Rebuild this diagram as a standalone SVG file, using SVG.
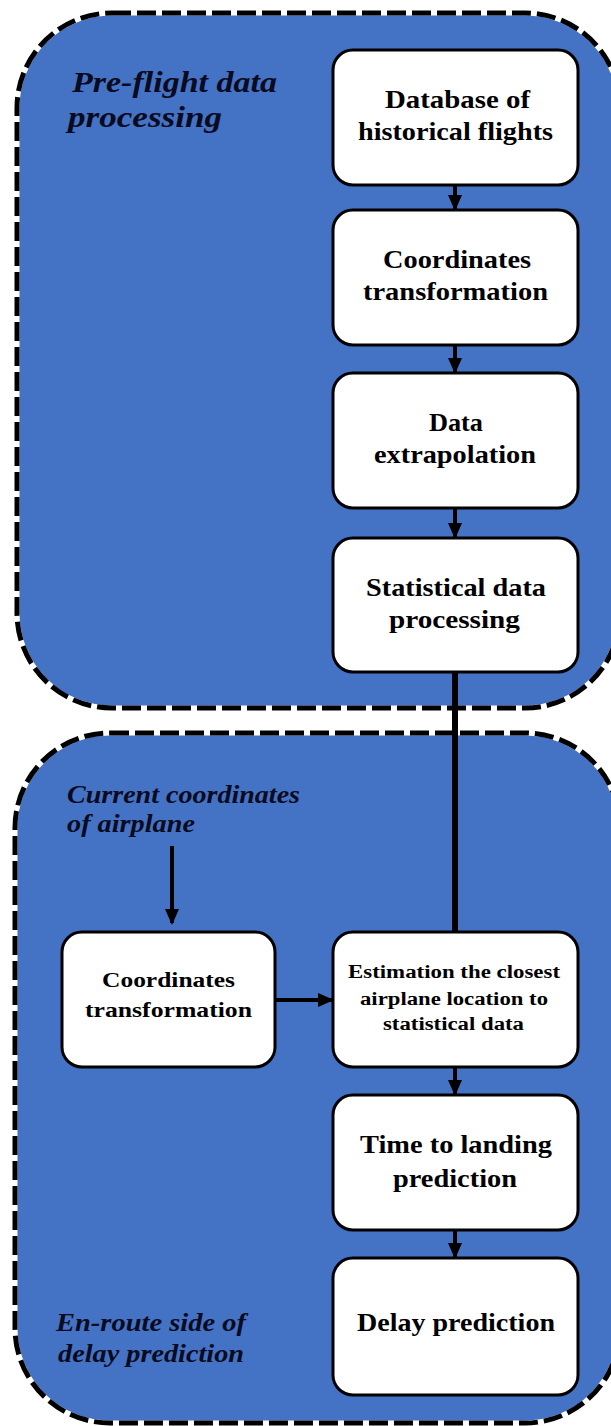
<svg xmlns="http://www.w3.org/2000/svg" width="611" height="1426" viewBox="0 0 611 1426">
<defs>
<style>
.panel{fill:#4472C4;stroke:#fff;stroke-width:5}
.dash{fill:none;stroke:#000;stroke-width:5;stroke-dasharray:19 6}
.box{fill:#fff;stroke:#000;stroke-width:3}
.conn{stroke:#000;stroke-width:4;fill:none}
</style>
<marker id="ah" markerWidth="16" markerHeight="16" refX="14" refY="8" orient="auto" markerUnits="userSpaceOnUse">
<path d="M0,1 L16,8 L0,15 Z" fill="#000"/>
</marker>
</defs>
<rect width="611" height="1426" fill="#fff"/>
<g id="panel-preflight">
<rect class="panel" x="17" y="13" width="603" height="695" rx="95" ry="95"/>
<rect class="dash" x="17" y="13" width="603" height="695" rx="95" ry="95"/>
<g font-family="Liberation Serif, Times New Roman, serif" font-weight="bold" font-style="italic" fill="#0a0a20" font-size="30">
<text x="72" y="92" textLength="205" lengthAdjust="spacingAndGlyphs">Pre-flight data</text>
<text x="68" y="127" textLength="154" lengthAdjust="spacingAndGlyphs">processing</text>
</g>
</g>
<g id="panel-enroute">
<rect class="panel" x="15" y="733" width="605" height="690" rx="95" ry="95"/>
<rect class="dash" x="15" y="733" width="605" height="690" rx="95" ry="95"/>
<g font-family="Liberation Serif, Times New Roman, serif" font-weight="bold" font-style="italic" fill="#0a0a20" font-size="25">
<text x="67" y="803" textLength="233" lengthAdjust="spacingAndGlyphs">Current coordinates</text>
<text x="67" y="832" textLength="128" lengthAdjust="spacingAndGlyphs">of airplane</text>
<text x="56" y="1331" textLength="190" lengthAdjust="spacingAndGlyphs">En-route side of</text>
<text x="58" y="1362" textLength="186" lengthAdjust="spacingAndGlyphs">delay prediction</text>
</g>
</g>
<g id="connectors">
<line class="conn" x1="455" y1="185" x2="455" y2="209" marker-end="url(#ah)"/>
<line class="conn" x1="455" y1="345" x2="455" y2="372" marker-end="url(#ah)"/>
<line class="conn" x1="455" y1="508" x2="455" y2="537" marker-end="url(#ah)"/>
<line x1="455" y1="672" x2="455" y2="932" stroke="#000" stroke-width="6"/>
<line class="conn" x1="172" y1="846" x2="172" y2="923" marker-end="url(#ah)"/>
<line class="conn" x1="275" y1="1000" x2="332" y2="1000" marker-end="url(#ah)"/>
<line class="conn" x1="455" y1="1067" x2="455" y2="1094" marker-end="url(#ah)"/>
<line class="conn" x1="455" y1="1230" x2="455" y2="1257" marker-end="url(#ah)"/>
</g>
<g font-family="Liberation Serif, Times New Roman, serif" font-weight="bold" fill="#000">
<g id="node-database">
<rect class="box" x="333" y="50" width="245" height="135" rx="20"/>
<text font-size="25" x="385" y="108" textLength="145" lengthAdjust="spacingAndGlyphs">Database of</text>
<text font-size="25" x="358" y="140" textLength="195" lengthAdjust="spacingAndGlyphs">historical flights</text>
</g>
<g id="node-coord1">
<rect class="box" x="333" y="210" width="245" height="135" rx="20"/>
<text font-size="25" x="383" y="268" textLength="148" lengthAdjust="spacingAndGlyphs">Coordinates</text>
<text font-size="25" x="363" y="300" textLength="185" lengthAdjust="spacingAndGlyphs">transformation</text>
</g>
<g id="node-extrap">
<rect class="box" x="333" y="373" width="245" height="135" rx="20"/>
<text font-size="25" x="429" y="431" textLength="54" lengthAdjust="spacingAndGlyphs">Data</text>
<text font-size="25" x="374" y="463" textLength="162" lengthAdjust="spacingAndGlyphs">extrapolation</text>
</g>
<g id="node-stat">
<rect class="box" x="333" y="538" width="245" height="134" rx="20"/>
<text font-size="25" x="366" y="596" textLength="180" lengthAdjust="spacingAndGlyphs">Statistical data</text>
<text font-size="25" x="389" y="628" textLength="131" lengthAdjust="spacingAndGlyphs">processing</text>
</g>
<g id="node-coord2">
<rect class="box" x="62" y="932" width="213" height="135" rx="20"/>
<text font-size="22" x="102" y="987" textLength="133" lengthAdjust="spacingAndGlyphs">Coordinates</text>
<text font-size="22" x="85" y="1017" textLength="167" lengthAdjust="spacingAndGlyphs">transformation</text>
</g>
<g id="node-estimation">
<rect class="box" x="333" y="932" width="245" height="135" rx="20"/>
<text font-size="18" x="348" y="978" textLength="212" lengthAdjust="spacingAndGlyphs">Estimation the closest</text>
<text font-size="18" x="360" y="1005" textLength="188" lengthAdjust="spacingAndGlyphs">airplane location to</text>
<text font-size="18" x="383" y="1030" textLength="141" lengthAdjust="spacingAndGlyphs">statistical data</text>
</g>
<g id="node-time">
<rect class="box" x="333" y="1095" width="245" height="135" rx="20"/>
<text font-size="25" x="360" y="1153" textLength="192" lengthAdjust="spacingAndGlyphs">Time to landing</text>
<text font-size="25" x="393" y="1187" textLength="124" lengthAdjust="spacingAndGlyphs">prediction</text>
</g>
<g id="node-delay">
<rect class="box" x="333" y="1258" width="245" height="137" rx="20"/>
<text font-size="25" x="357" y="1331" textLength="198" lengthAdjust="spacingAndGlyphs">Delay prediction</text>
</g>
</g>
</svg>
